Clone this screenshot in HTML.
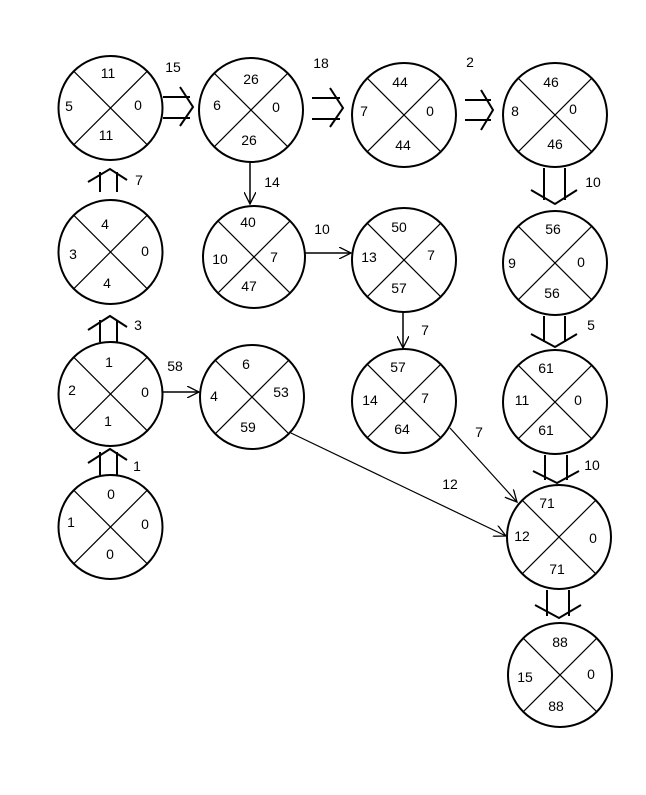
<!DOCTYPE html>
<html><head><style>
html,body{margin:0;padding:0;background:#fff;}
svg{display:block;}
text{font-family:"Liberation Sans",Arial,sans-serif;font-size:14px;fill:#000;text-anchor:middle;dominant-baseline:central;}
</style></head><body>
<svg width="646" height="795" viewBox="0 0 646 795" xmlns="http://www.w3.org/2000/svg">
<defs>
<marker id="ah" markerWidth="14" markerHeight="12" refX="12" refY="6" orient="auto" markerUnits="userSpaceOnUse">
<path d="M0,0 L12,6 L0,12" fill="none" stroke="#000" stroke-width="1.3"/>
</marker>
</defs>
<g stroke="#000" fill="none">
<!-- nodes -->
<g id="nodes" stroke-width="2">
<circle cx="110.5" cy="108" r="52"/>
<circle cx="251" cy="110" r="52"/>
<circle cx="404" cy="115" r="52"/>
<circle cx="555" cy="115" r="52"/>
<circle cx="110.5" cy="252" r="52"/>
<circle cx="254" cy="257" r="51"/>
<circle cx="404" cy="260" r="52"/>
<circle cx="555" cy="263" r="52"/>
<circle cx="110.5" cy="394" r="52"/>
<circle cx="252" cy="397" r="52"/>
<circle cx="404" cy="401" r="52"/>
<circle cx="555" cy="402" r="52"/>
<circle cx="110.5" cy="527" r="52"/>
<circle cx="559" cy="537" r="52"/>
<circle cx="560" cy="675" r="52"/>
</g>
<g stroke-width="1.2">
<path d="M73.7,71.2 L147.3,144.8 M147.3,71.2 L73.7,144.8"/>
<path d="M214.2,73.2 L287.8,146.8 M287.8,73.2 L214.2,146.8"/>
<path d="M367.2,78.2 L440.8,151.8 M440.8,78.2 L367.2,151.8"/>
<path d="M518.2,78.2 L591.8,151.8 M591.8,78.2 L518.2,151.8"/>
<path d="M73.7,215.2 L147.3,288.8 M147.3,215.2 L73.7,288.8"/>
<path d="M217.9,220.9 L290.1,293.1 M290.1,220.9 L217.9,293.1"/>
<path d="M367.2,223.2 L440.8,296.8 M440.8,223.2 L367.2,296.8"/>
<path d="M518.2,226.2 L591.8,299.8 M591.8,226.2 L518.2,299.8"/>
<path d="M73.7,357.2 L147.3,430.8 M147.3,357.2 L73.7,430.8"/>
<path d="M215.2,360.2 L288.8,433.8 M288.8,360.2 L215.2,433.8"/>
<path d="M367.2,364.2 L440.8,437.8 M440.8,364.2 L367.2,437.8"/>
<path d="M518.2,365.2 L591.8,438.8 M591.8,365.2 L518.2,438.8"/>
<path d="M73.7,490.2 L147.3,563.8 M147.3,490.2 L73.7,563.8"/>
<path d="M522.2,500.2 L595.8,573.8 M595.8,500.2 L522.2,573.8"/>
<path d="M523.2,638.2 L596.8,711.8 M596.8,638.2 L523.2,711.8"/>
</g>
<!-- double arrows -->
<g stroke-width="2">
<path d="M163,97 H190 M163,118 H190 M180,87 L193,107 L180,126"/>
<path d="M312,98 H340 M312,119 H340 M330,88 L343,108 L330,127"/>
<path d="M465,100 H491 M465,120 H491 M481,90 L493,110 L481,130"/>
<path d="M544,168 V200 M565,168 V200 M531,190 L555,204 L577,190"/>
<path d="M544,316 V342 M565,316 V342 M531,334 L555,347 L577,334"/>
<path d="M545,455 V480 M567,455 V480 M533,471 L557,483 L579,471"/>
<path d="M547,590 V616 M569,590 V616 M535,605 L559,618 L581,605"/>
<path d="M100,475 V452 M117,475 V452 M88,463 L110,449 L127,460"/>
<path d="M100,342 V320 M117,342 V320 M88,330 L110,316 L127,327"/>
<path d="M100,192 V172 M117,192 V172 M88,182 L110,169 L127,180"/>
</g>
<!-- single arrows -->
<g stroke-width="1.5" marker-end="url(#ah)">
<path d="M250,162 V204"/>
<path d="M305,253 H351"/>
<path d="M403,312 V348"/>
<path d="M163,392 H199"/>
</g>
<g stroke-width="1.2" marker-end="url(#ah)">
<path d="M291,433 L506,536"/>
<path d="M450,428 L517,502"/>
</g>
</g>
<!-- node labels -->
<text x="108" y="73">11</text><text x="69" y="106">5</text><text x="138" y="105">0</text><text x="106" y="135">11</text>
<text x="251" y="79">26</text><text x="217" y="105">6</text><text x="276" y="107">0</text><text x="249" y="140">26</text>
<text x="400" y="82">44</text><text x="364" y="111">7</text><text x="430" y="111">0</text><text x="403" y="145">44</text>
<text x="551" y="82">46</text><text x="515" y="111">8</text><text x="573" y="109">0</text><text x="555" y="144">46</text>
<text x="105" y="224">4</text><text x="73" y="254">3</text><text x="145" y="251">0</text><text x="107" y="283">4</text>
<text x="248" y="222">40</text><text x="220" y="259">10</text><text x="274" y="257">7</text><text x="249" y="286">47</text>
<text x="399" y="227">50</text><text x="369" y="257">13</text><text x="431" y="255">7</text><text x="399" y="288">57</text>
<text x="553" y="229">56</text><text x="512" y="263">9</text><text x="581" y="262">0</text><text x="552" y="293">56</text>
<text x="109" y="362">1</text><text x="72" y="390">2</text><text x="145" y="392">0</text><text x="108" y="421">1</text>
<text x="246" y="364">6</text><text x="214" y="396">4</text><text x="281" y="392">53</text><text x="248" y="427">59</text>
<text x="398" y="367">57</text><text x="370" y="400">14</text><text x="425" y="398">7</text><text x="402" y="429">64</text>
<text x="546" y="368">61</text><text x="522" y="400">11</text><text x="578" y="400">0</text><text x="546" y="430">61</text>
<text x="111" y="494">0</text><text x="71" y="522">1</text><text x="145" y="524">0</text><text x="110" y="554">0</text>
<text x="547" y="503">71</text><text x="522" y="536">12</text><text x="593" y="538">0</text><text x="557" y="569">71</text>
<text x="560" y="642">88</text><text x="525" y="677">15</text><text x="591" y="674">0</text><text x="556" y="706">88</text>
<!-- edge labels -->
<text x="173" y="67">15</text>
<text x="321" y="63">18</text>
<text x="470" y="62">2</text>
<text x="593" y="182">10</text>
<text x="591" y="325">5</text>
<text x="592" y="465">10</text>
<text x="139" y="180">7</text>
<text x="138" y="325">3</text>
<text x="137" y="466">1</text>
<text x="272" y="182">14</text>
<text x="322" y="229">10</text>
<text x="425" y="330">7</text>
<text x="175" y="366">58</text>
<text x="450" y="484">12</text>
<text x="479" y="432">7</text>
</svg>
</body></html>
